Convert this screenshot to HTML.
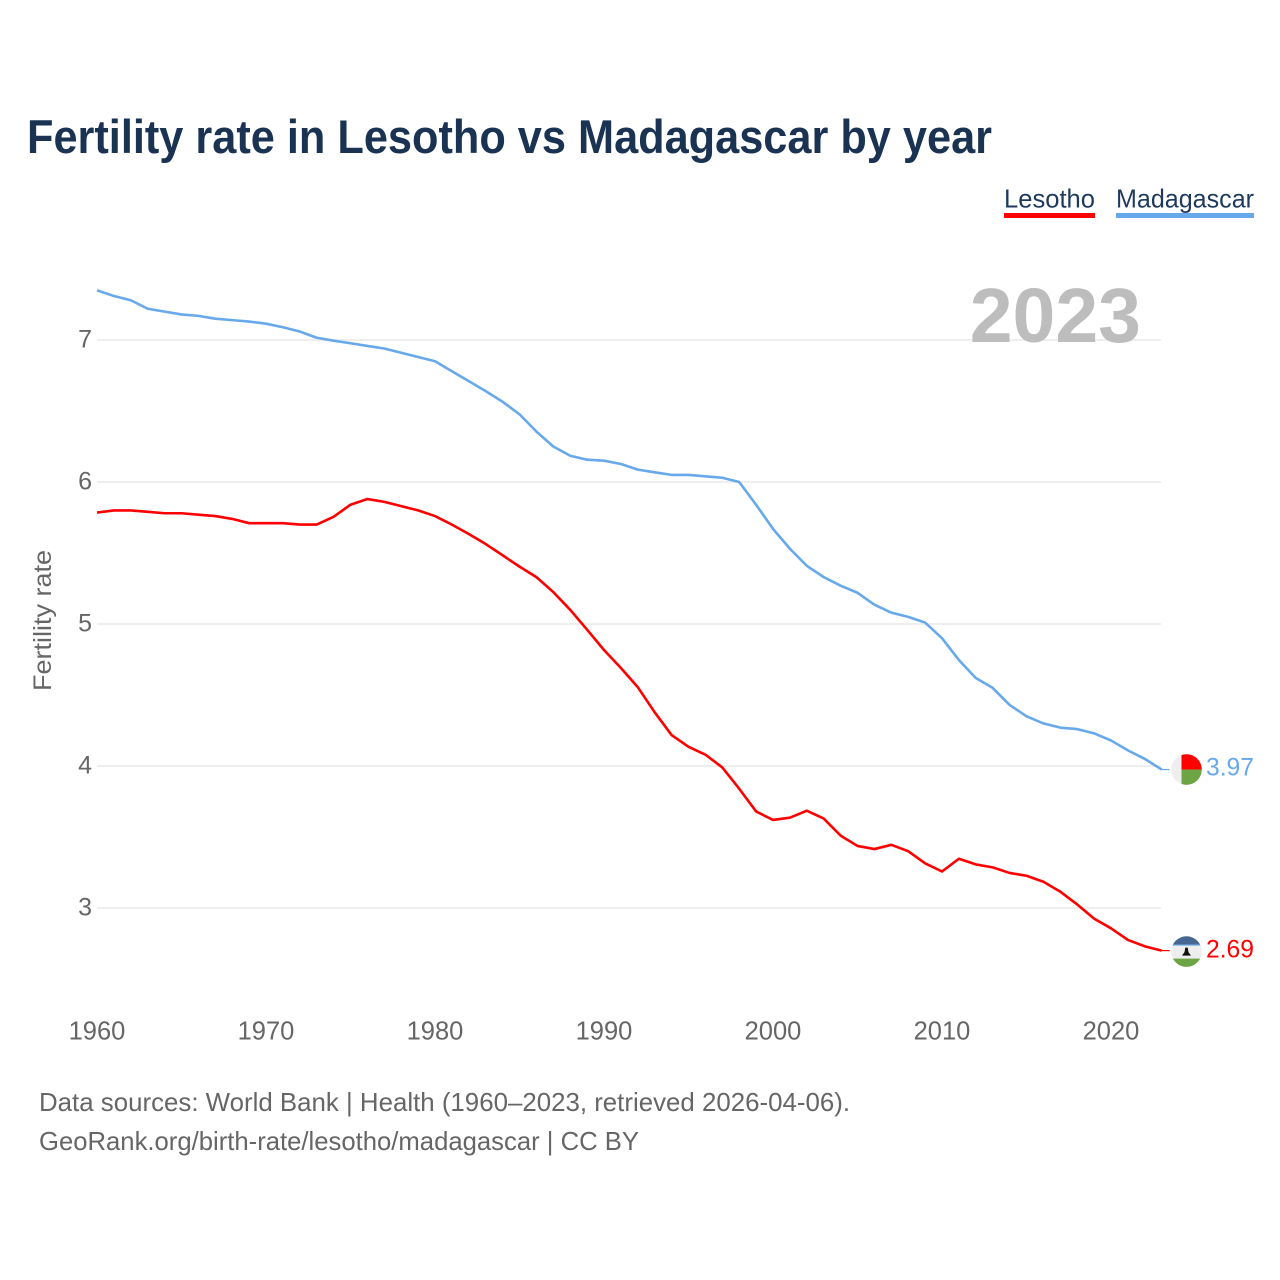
<!DOCTYPE html>
<html lang="en">
<head>
<meta charset="utf-8">
<title>Fertility rate in Lesotho vs Madagascar by year</title>
<style>
html,body{margin:0;padding:0;background:#fff;width:1280px;height:1280px;overflow:hidden}
svg{display:block;font-family:"Liberation Sans",sans-serif}
</style>
</head>
<body>
<svg id="chart" width="1280" height="1280" viewBox="0 0 1280 1280" xmlns="http://www.w3.org/2000/svg">
  <defs>
    <clipPath id="clip-mg"><circle cx="0" cy="0" r="15.3"/></clipPath>
    <clipPath id="clip-ls"><circle cx="0" cy="0" r="15.3"/></clipPath>
  </defs>
  <text x="27" y="153" font-size="47" font-weight="700" fill="#1a3352" textLength="965" lengthAdjust="spacingAndGlyphs">Fertility rate in Lesotho vs Madagascar by year</text>

  <text x="1004" y="207.5" font-size="26" fill="#1f3a5f" textLength="91" lengthAdjust="spacingAndGlyphs">Lesotho</text>
  <rect x="1004" y="213" width="91" height="5" fill="#ff0000"/>
  <text x="1116" y="207.5" font-size="26" fill="#1f3a5f" textLength="138" lengthAdjust="spacingAndGlyphs">Madagascar</text>
  <rect x="1116" y="213" width="138" height="5" fill="#67a9ea"/>

  <g id="grid"></g>
  <g id="y-ticks"></g>
  <g id="x-ticks"></g>

  <text x="1141" y="342" font-size="77" font-weight="700" fill="#bdbdbd" text-anchor="end">2023</text>

  <text transform="translate(51,620.5) rotate(-90)" font-size="25" fill="#666666" text-anchor="middle" textLength="141" lengthAdjust="spacingAndGlyphs">Fertility rate</text>

  <path id="line-madagascar" fill="none" stroke="#67a9ea" stroke-width="2.6" stroke-linejoin="round"/>
  <path id="line-lesotho" fill="none" stroke="#ff0000" stroke-width="2.6" stroke-linejoin="round"/>
  <path id="stub-madagascar" fill="none" stroke="#67a9ea" stroke-width="1.2"/>
  <path id="stub-lesotho" fill="none" stroke="#ff0000" stroke-width="1.2"/>

  <g id="flag-madagascar">
    <g clip-path="url(#clip-mg)">
      <rect x="-16" y="-16" width="32" height="32" fill="#eeeeee"/>
      <rect x="-5" y="-16" width="21" height="16" fill="#ff0000"/>
      <rect x="-5" y="0" width="21" height="16" fill="#6da544"/>
    </g>
  </g>
  <g id="flag-lesotho">
    <g clip-path="url(#clip-ls)">
      <rect x="-16" y="-16" width="32" height="32" fill="#eeeeee"/>
      <rect x="-16" y="-16" width="32" height="9" fill="#466791"/>
      <rect x="-16" y="-7" width="32" height="1" fill="#67a9ea"/>
      <rect x="-16" y="7" width="32" height="9" fill="#6da544"/>
      <path d="M-4.5,4 L4.5,4 L2,0.5 L1.2,-4 L-1.2,-4 L-2,0.5 Z" fill="#111111"/>
    </g>
  </g>

  <text id="value-madagascar" x="1206" font-size="25" fill="#67a9ea" textLength="48" lengthAdjust="spacingAndGlyphs"></text>
  <text id="value-lesotho" x="1206" font-size="25" fill="#ff0000" textLength="48" lengthAdjust="spacingAndGlyphs"></text>

  <text x="39" y="1111" font-size="26" fill="#666666" textLength="811" lengthAdjust="spacingAndGlyphs">Data sources: World Bank | Health (1960–2023, retrieved 2026-04-06).</text>
  <text x="39" y="1150" font-size="26" fill="#666666" textLength="600" lengthAdjust="spacingAndGlyphs">GeoRank.org/birth-rate/lesotho/madagascar | CC BY</text>
</svg>
<script>
const startYear = 1960;
const xTickYears = [1960, 1970, 1980, 1990, 2000, 2010, 2020];
const yTickValues = [3, 4, 5, 6, 7];
const madagascarValues = [7.35,7.31,7.28,7.22,7.20,7.18,7.17,7.15,7.14,7.13,7.115,7.09,7.06,7.016,6.995,6.977,6.958,6.94,6.91,6.88,6.85,6.78,6.71,6.64,6.565,6.477,6.355,6.25,6.185,6.157,6.15,6.127,6.087,6.068,6.05,6.05,6.04,6.03,6.0,5.84,5.67,5.53,5.41,5.33,5.27,5.22,5.136,5.08,5.05,5.01,4.90,4.746,4.62,4.55,4.43,4.35,4.30,4.27,4.26,4.23,4.18,4.11,4.05,3.975];
const lesothoValues = [5.785,5.80,5.80,5.79,5.78,5.78,5.77,5.76,5.74,5.71,5.71,5.71,5.70,5.70,5.755,5.84,5.88,5.86,5.83,5.80,5.76,5.70,5.634,5.563,5.484,5.404,5.33,5.225,5.10,4.96,4.817,4.69,4.555,4.378,4.218,4.135,4.08,3.99,3.84,3.68,3.62,3.636,3.685,3.63,3.51,3.437,3.415,3.445,3.40,3.315,3.257,3.347,3.307,3.286,3.247,3.227,3.185,3.115,3.025,2.925,2.857,2.775,2.73,2.70];
const madagascarPrinted = "3.97";
const lesothoPrinted = "2.69";

const SVG_NS = "http://www.w3.org/2000/svg";
function xScale(year) { return 97 + (year - 1960) * 16.9; }
function yScale(value) { return 340 + (7 - value) * 142; }
function linePath(values) {
  return values.map(function (v, i) {
    return (i ? "L" : "M") + xScale(startYear + i).toFixed(2) + "," + yScale(v).toFixed(2);
  }).join(" ");
}
const gridGroup = document.getElementById("grid");
const yTickGroup = document.getElementById("y-ticks");
const xTickGroup = document.getElementById("x-ticks");
const lastYear = startYear + madagascarValues.length - 1;

yTickValues.forEach(function (v) {
  const line = document.createElementNS(SVG_NS, "line");
  
  
  line.setAttribute("x1", xScale(1960));
  line.setAttribute("x2", xScale(lastYear) - 0.7);
  line.setAttribute("y1", yScale(v));
  line.setAttribute("y2", yScale(v));
  line.setAttribute("stroke", "#eeeeee");
  line.setAttribute("stroke-width", "2");
  gridGroup.appendChild(line);

  const label = document.createElementNS(SVG_NS, "text");
  
  
  label.setAttribute("x", 92);
  label.setAttribute("y", yScale(v) + 7.5);
  label.setAttribute("text-anchor", "end");
  label.setAttribute("font-size", "25");
  label.setAttribute("fill", "#666666");
  label.textContent = v;
  yTickGroup.appendChild(label);
});

xTickYears.forEach(function (year) {
  const label = document.createElementNS(SVG_NS, "text");
  
  
  label.setAttribute("x", xScale(year));
  label.setAttribute("y", 1039.5);
  label.setAttribute("text-anchor", "middle");
  label.setAttribute("font-size", "25.5");
  label.setAttribute("fill", "#666666");
  label.textContent = year;
  xTickGroup.appendChild(label);
});

function drawSeries(key, values, printed, flagShift, labelShift) {
  const endX = xScale(startYear + values.length - 1);
  const endY = yScale(values[values.length - 1]);
  document.getElementById("line-" + key).setAttribute("d", linePath(values));
  document.getElementById("stub-" + key).setAttribute("d", "M" + endX + "," + endY + " H" + (endX + 8));
  document.getElementById("flag-" + key).setAttribute("transform", "translate(1186.5," + (endY + flagShift) + ")");
  const valueLabel = document.getElementById("value-" + key);
  valueLabel.setAttribute("y", endY + labelShift);
  valueLabel.textContent = printed;
}
drawSeries("madagascar", madagascarValues, madagascarPrinted, 0, 6);
drawSeries("lesotho", lesothoValues, lesothoPrinted, 1, 7);
</script>
</body>
</html>
